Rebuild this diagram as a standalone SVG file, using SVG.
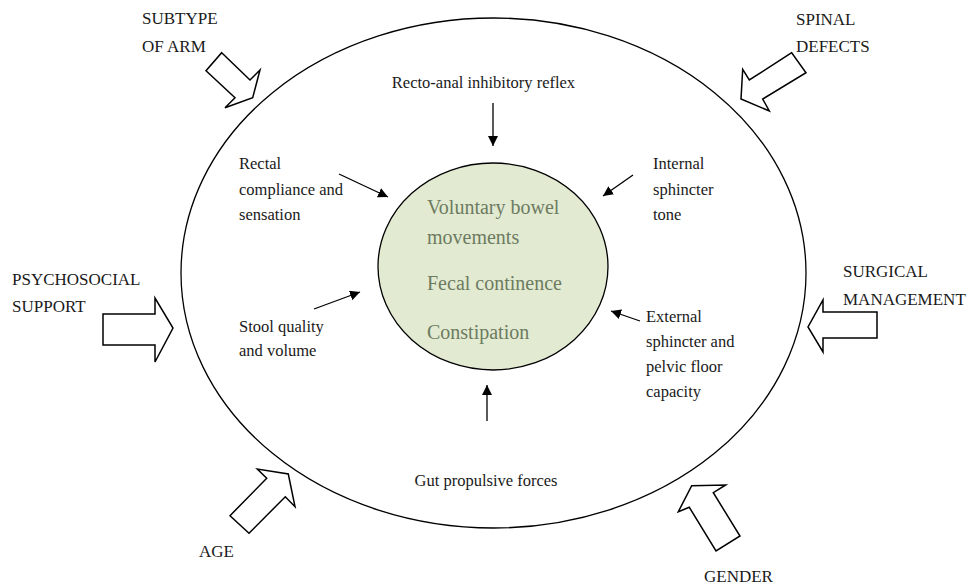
<svg xmlns="http://www.w3.org/2000/svg" width="974" height="587" viewBox="0 0 974 587">
  <style>
    .lbl { font-family: "Liberation Serif", "Times New Roman", serif; font-size: 16.5px; fill: #1a1a1a; }
    .cap { font-family: "Liberation Serif", "Times New Roman", serif; font-size: 17px; fill: #1a1a1a; }
    .core { font-family: "Liberation Serif", "Times New Roman", serif; font-size: 20px; fill: #6d7b60; }
    .big { fill: #ffffff; stroke: #000000; stroke-width: 1.5; stroke-linejoin: miter; }
    .link { stroke: #000000; stroke-width: 1.3; fill: none; marker-end: url(#head); }
  </style>
  <defs>
    <marker id="head" viewBox="0 0 10 10" refX="10" refY="5" markerWidth="10" markerHeight="10" markerUnits="userSpaceOnUse" orient="auto">
      <path d="M0,0 L10,5 L0,10 z" fill="#000000"/>
    </marker>
  </defs>
  <rect width="974" height="587" fill="#ffffff"/>

  <!-- outer boundary -->
  <g id="boundary">
    <ellipse cx="493.5" cy="273" rx="312.5" ry="255" fill="none" stroke="#000000" stroke-width="1.3"/>
  </g>

  <!-- central outcomes -->
  <g id="outcomes">
    <ellipse cx="493" cy="266.5" rx="115" ry="103.5" fill="#e2ead2" stroke="#000000" stroke-width="1.3"/>
    <text class="core" x="427" y="214">Voluntary bowel</text>
    <text class="core" x="427" y="244">movements</text>
    <text class="core" x="427" y="290">Fecal continence</text>
    <text class="core" x="427" y="339">Constipation</text>
  </g>

  <!-- inner factors -->
  <g id="rair">
    <text class="lbl" x="483.5" y="88" text-anchor="middle">Recto-anal inhibitory reflex</text>
  </g>
  <g id="rectal">
    <text class="lbl" x="239" y="169">Rectal</text>
    <text class="lbl" x="239" y="195">compliance and</text>
    <text class="lbl" x="239" y="220">sensation</text>
  </g>
  <g id="internal">
    <text class="lbl" x="653" y="169">Internal</text>
    <text class="lbl" x="653" y="195">sphincter</text>
    <text class="lbl" x="653" y="220">tone</text>
  </g>
  <g id="stool">
    <text class="lbl" x="239" y="332">Stool quality</text>
    <text class="lbl" x="239" y="356">and volume</text>
  </g>
  <g id="external">
    <text class="lbl" x="646" y="322">External</text>
    <text class="lbl" x="646" y="347">sphincter and</text>
    <text class="lbl" x="646" y="372">pelvic floor</text>
    <text class="lbl" x="646" y="397">capacity</text>
  </g>
  <g id="gut">
    <text class="lbl" x="486" y="486" text-anchor="middle">Gut propulsive forces</text>
  </g>

  <!-- outer factors -->
  <g id="subtype">
    <text class="cap" x="142" y="24">SUBTYPE</text>
    <text class="cap" x="142" y="52">OF ARM</text>
    <polygon class="big" points="221.7,52.7 250,80 260,70 252.7,97.7 225,107.7 235,97.7 206,70.7"/>
  </g>
  <g id="spinal">
    <text class="cap" x="796" y="25">SPINAL</text>
    <text class="cap" x="796" y="52">DEFECTS</text>
    <polygon class="big" points="791.7,52.7 749.3,80 742.7,69.3 741,99 769.3,111 762.7,99 806,72.7"/>
  </g>
  <g id="psychosocial">
    <text class="cap" x="12" y="285">PSYCHOSOCIAL</text>
    <text class="cap" x="12" y="312">SUPPORT</text>
    <polygon class="big" points="103,314 155,314 155,298 173,328 155,362 155,345 103,345"/>
  </g>
  <g id="surgical">
    <text class="cap" x="843" y="277">SURGICAL</text>
    <text class="cap" x="843" y="305">MANAGEMENT</text>
    <polygon class="big" points="877,312 823,312 823,300 808,327 823,352 823,338 877,338"/>
  </g>
  <g id="age">
    <text class="cap" x="199" y="557">AGE</text>
    <polygon class="big" points="230,515.7 266.7,478.3 257.3,469 288.3,474 295,506.7 285.3,496.7 249,533.3"/>
  </g>
  <g id="gender">
    <text class="cap" x="704" y="582">GENDER</text>
    <polygon class="big" points="691.7,485.7 725.7,485 713.3,492.7 740,536 716,551 689.3,507.3 678.3,511.7"/>
  </g>

  <!-- influence arrows toward the outcomes -->
  <g id="connectors">
    <line class="link" x1="493" y1="103" x2="493" y2="146"/>
    <line class="link" x1="339" y1="174" x2="388" y2="197"/>
    <line class="link" x1="633" y1="175" x2="603" y2="196"/>
    <line class="link" x1="314" y1="309" x2="360" y2="292"/>
    <line class="link" x1="640" y1="321" x2="611" y2="311"/>
    <line class="link" x1="487" y1="421" x2="487" y2="385"/>
  </g>
</svg>
